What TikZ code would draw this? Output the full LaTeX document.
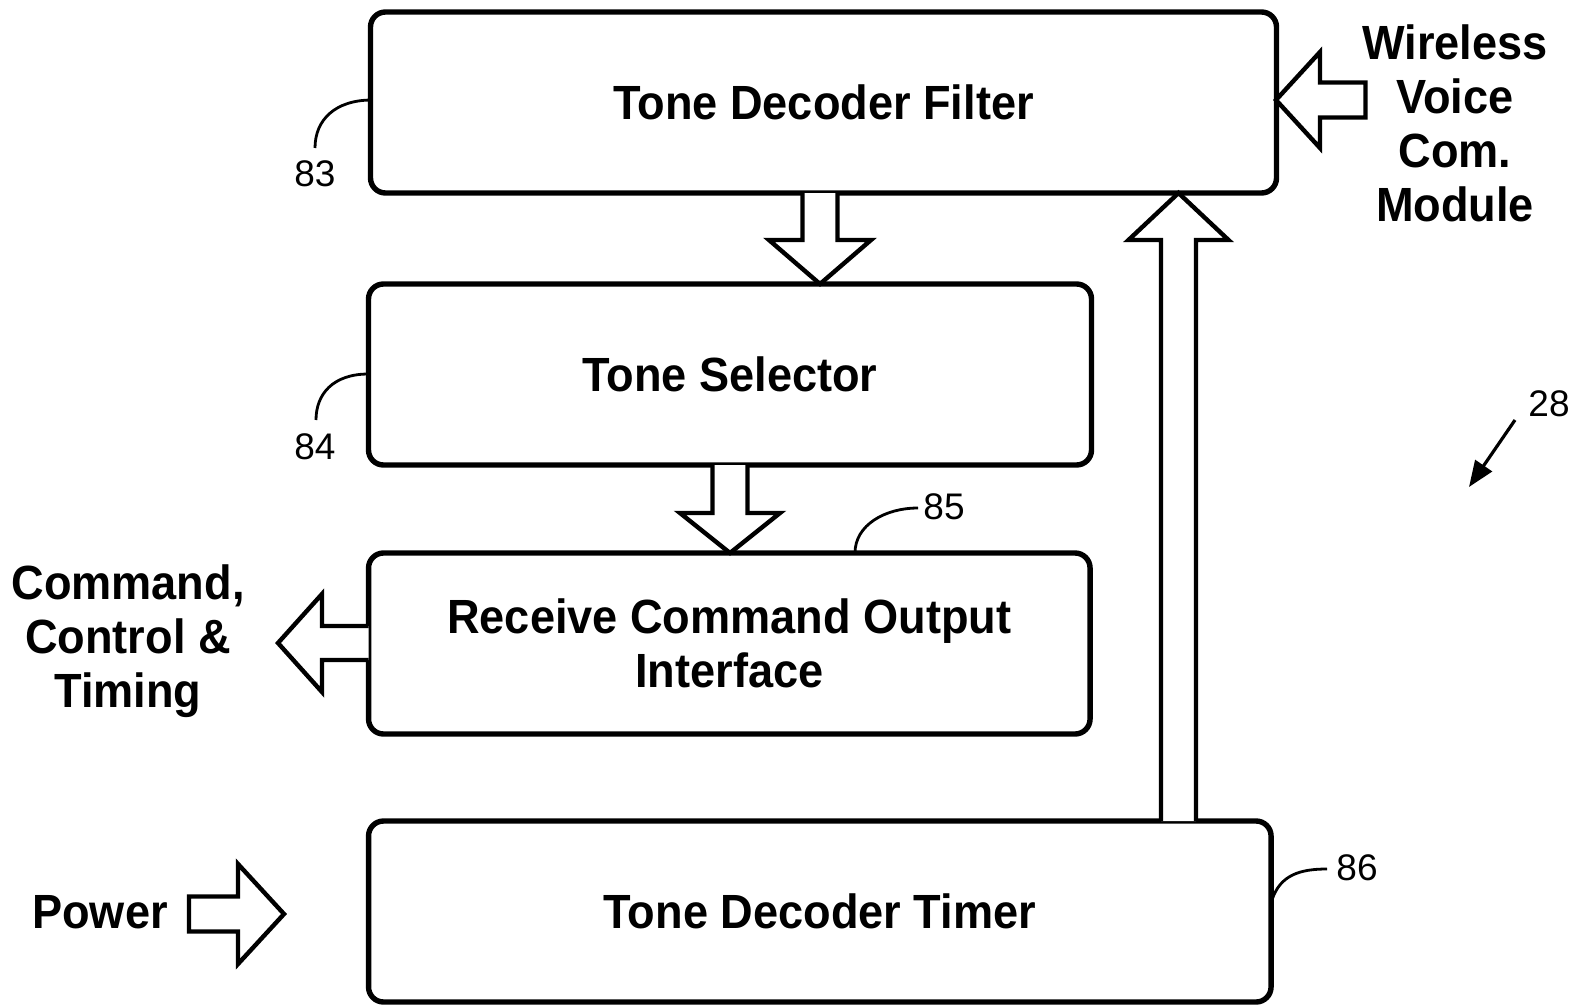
\documentclass[tikz,border=0pt]{standalone}
\usepackage{fontspec}
\setmainfont{Liberation Sans}
\newfontfamily\lbl[FakeStretch=0.94]{Liberation Sans}
\usetikzlibrary{calc,arrows.meta}
\begin{document}
\begin{tikzpicture}[x=0.5pt,y=-0.5pt,
  box/.style={draw, line width=2.7pt, rounded corners=7.5pt, align=center,
    font=\lbl\bfseries\fontsize{24}{27}\selectfont, inner sep=0pt},
  ext/.style={align=center, font=\lbl\bfseries\fontsize{24}{27}\selectfont, inner sep=0pt},
  barrow/.style={draw, line width=2.2pt, line join=miter, fill=white},
  lead/.style={line width=1.4pt},
  num/.style={font=\fontsize{18.5}{20}\selectfont, inner sep=0pt}]
\useasboundingbox (0,0) rectangle (1579,1006);

% boxes
\node[box, minimum width=453pt, minimum height=90.5pt] (filter) at (823.5,102.5) {Tone Decoder Filter};
\node[box, minimum width=361.5pt, minimum height=90.5pt] (selector) at (730,374.5) {Tone Selector};
\node[box, minimum width=360.75pt, minimum height=90.5pt] (rcoi) at (729.3,643.5) {Receive Command Output\\Interface};
\node[box, minimum width=451.25pt, minimum height=90.5pt] (timer) at (819.8,911.5) {Tone Decoder Timer};

% external labels
\node[ext] (wlabel) at (1455,123) {Wireless\\Voice\\Com.\\Module};
\node[ext] (cmdlabel) at (128,641) {Command,\\Control \&\\Timing};
\node[ext] (powlabel) at (100,912) {Power};

% block arrow: filter -> selector
\coordinate (a1s) at (820,193);
\coordinate (a1e) at (820,284);
\draw[barrow] ($(a1s)+(-17.5,0)$) |- ($(a1e)+(-51,-44)$) -- (a1e) -- ($(a1e)+(51,-44)$) -| ($(a1s)+(17.5,0)$);

% block arrow: selector -> rcoi
\coordinate (a2s) at (730,465);
\coordinate (a2e) at (730,553);
\draw[barrow] ($(a2s)+(-17.5,0)$) |- ($(a2e)+(-50,-40)$) -- (a2e) -- ($(a2e)+(50,-40)$) -| ($(a2s)+(17.5,0)$);

% block arrow: timer -> filter
\coordinate (a3s) at (1178.5,821);
\coordinate (a3e) at (1178.5,193);
\draw[barrow] ($(a3s)+(-17.5,0)$) |- ($(a3e)+(-50,47)$) -- (a3e) -- ($(a3e)+(50,47)$) -| ($(a3s)+(17.5,0)$);

% block arrow: wireless -> filter
\coordinate (a4s) at (1365.5,100);
\coordinate (a4e) at (1276,100);
\draw[barrow] ($(a4s)+(0,-17.5)$) -- ($(a4s)+(0,17.5)$) -- ($(a4e)+(44,17.5)$) -- ($(a4e)+(44,48)$) -- (a4e) -- ($(a4e)+(44,-48)$) -- ($(a4e)+(44,-17.5)$) -- cycle;

% block arrow: rcoi -> command
\coordinate (a5s) at (368.5,643);
\coordinate (a5e) at (278,643);
\draw[barrow] ($(a5s)+(0,-17)$) -- ($(a5e)+(44,-17)$) -- ($(a5e)+(44,-49)$) -- (a5e) -- ($(a5e)+(44,49)$) -- ($(a5e)+(44,17)$) -- ($(a5s)+(0,17)$);

% block arrow: power -> timer
\coordinate (a6s) at (189,914);
\coordinate (a6e) at (284,914);
\draw[barrow] ($(a6s)+(0,-17.5)$) -- ($(a6s)+(0,17.5)$) -- ($(a6e)+(-46,17.5)$) -- ($(a6e)+(-46,50)$) -- (a6e) -- ($(a6e)+(-46,-50)$) -- ($(a6e)+(-46,-17.5)$) -- cycle;

% reference numerals
\node[num] (n83) at (315,174) {83};
\node[num] (n84) at (315,447) {84};
\node[num] (n85) at (944,507) {85};
\node[num] (n86) at (1357,868) {86};
\node[num] (n28) at (1549,404) {28};

\coordinate (l83) at (315,148);
\coordinate (l84) at (316,420);
\coordinate (l85) at (918,508);
\coordinate (l86) at (1327,869);
\draw[lead] (372,100) .. controls (335,100) and (315,120) .. (l83);
\draw[lead] (368.5,374) .. controls (333,374) and (316,394) .. (l84);
\draw[lead] (855,553) .. controls (855,525) and (885,508) .. (l85);
\draw[lead] (1272,900) .. controls (1280,875) and (1300,869) .. (l86);

\coordinate (a28s) at (1515,420);
\coordinate (a28e) at (1469,487);
\draw[lead, line width=1.6pt, -{Triangle[length=13pt,width=10pt]}] (a28s) -- (a28e);
\end{tikzpicture}
\end{document}
